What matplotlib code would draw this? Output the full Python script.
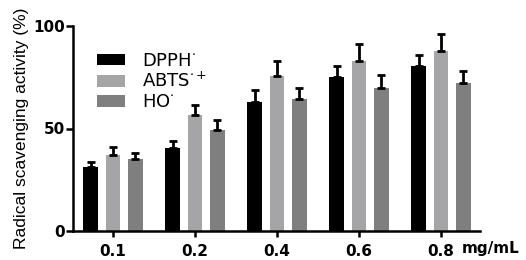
import matplotlib
matplotlib.use("Agg")
import matplotlib.pyplot as plt
import numpy as np

categories = ["0.1", "0.2", "0.4", "0.6", "0.8"]
series_names = [r"DPPH$^{\cdot}$", r"ABTS$^{\cdot+}$", r"HO$^{\cdot}$"]
dpph = [31, 40.5, 63, 75, 80.5]
dpph_err = [2.5, 3.5, 6, 5.5, 5.5]
abts = [37, 56.5, 75.5, 83, 88]
abts_err = [4, 5, 7.5, 8, 8]
ho = [35, 49.5, 64.5, 70, 72]
ho_err = [3, 4.5, 5.5, 6, 6]
colors = ["#000000", "#a5a5a7", "#7f7f7f"]
yticks = [0, 50, 100]

plt.rcParams['font.family'] = ['DejaVu Sans']
plt.rcParams['mathtext.fontset'] = 'dejavusans'

fig = plt.figure(figsize=(5.26, 2.6), dpi=100)
ax = fig.add_axes([73/526, 29/260, (480-73)/526, (231-26)/260])

x = np.arange(len(categories))
w = 0.18
offs = [-0.274, 0, 0.274]
for vals, errs, c, name, o in zip([dpph, abts, ho], [dpph_err, abts_err, ho_err], colors, series_names, offs):
    ax.bar(x + o, vals, width=w, color=c, label=name, zorder=2)
    ax.errorbar(x + o, vals, yerr=[np.zeros(len(errs)), errs], fmt='none',
                ecolor='black', elinewidth=2, capsize=3, capthick=2, zorder=3)

ax.set_xlim(-0.488, 4.476)
ax.set_ylim(0, 100)
ax.set_yticks(yticks)
ax.set_xticks(x)
ax.set_xticklabels(categories, fontweight='bold', fontsize=11)
for lab in ax.get_yticklabels():
    lab.set_fontweight('bold')
    lab.set_fontsize(11)
ax.spines['top'].set_visible(False)
ax.spines['right'].set_visible(False)
ax.spines['left'].set_linewidth(1.8)
ax.spines['bottom'].set_linewidth(1.8)
ax.tick_params(axis='y', width=1.8, length=5, pad=1)
ax.tick_params(axis='x', width=1.8, length=4, pad=5)
ax.set_ylabel("Radical scavenging activity (%)", fontfamily='Liberation Sans',
              fontsize=12.5, labelpad=3)

ax.text((462-73)/407, -0.107, "mg/mL", transform=ax.transAxes, fontsize=11,
        fontweight='bold', ha='left', va='baseline')

leg = ax.legend(loc='upper left', bbox_to_anchor=(0.04, 0.91), frameon=False,
                fontsize=13, handlelength=1.6, handleheight=0.6,
                labelspacing=0.12, handletextpad=0.9, borderaxespad=0)

fig.savefig("out.png", dpi=100)
